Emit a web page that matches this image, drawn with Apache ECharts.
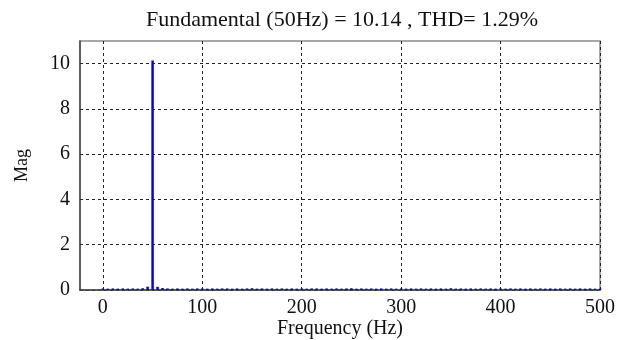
<!DOCTYPE html>
<html>
<head>
<meta charset="utf-8">
<style>
  html, body { margin: 0; padding: 0; background: #fff; }
  #chart { width: 621px; height: 340px; }
</style>
<script src="https://cdn.jsdelivr.net/npm/echarts@6/dist/echarts.min.js"></script>
</head>
<body>
<div id="chart"></div>
<script>
// FFT spectrum: frequency bins (Hz) and magnitudes
const freqs = [
  0, 5, 10, 15, 20, 25, 30, 35, 40, 45, 50, 55, 60, 65, 70, 75, 80, 85, 90, 95,
  100, 105, 110, 115, 120, 125, 130, 135, 140, 145, 150, 155, 160, 165, 170, 175, 180, 185, 190, 195,
  200, 205, 210, 215, 220, 225, 230, 235, 240, 245, 250, 255, 260, 265, 270, 275, 280, 285, 290, 295,
  300, 305, 310, 315, 320, 325, 330, 335, 340, 345, 350, 355, 360, 365, 370, 375, 380, 385, 390, 395,
  400, 405, 410, 415, 420, 425, 430, 435, 440, 445, 450, 455, 460, 465, 470, 475, 480, 485, 490, 495, 500
];
const mags = [
  0.07, 0.06, 0.07, 0.06, 0.07, 0.06, 0.07, 0.06, 0.08, 0.15, 10.14, 0.14, 0.09, 0.07, 0.06, 0.07, 0.06, 0.07, 0.06, 0.07,
  0.07, 0.06, 0.07, 0.06, 0.07, 0.07, 0.06, 0.07, 0.06, 0.07, 0.08, 0.06, 0.07, 0.06, 0.07, 0.06, 0.07, 0.06, 0.07, 0.06,
  0.07, 0.06, 0.07, 0.07, 0.06, 0.07, 0.06, 0.07, 0.06, 0.07, 0.08, 0.06, 0.07, 0.06, 0.07, 0.06, 0.07, 0.06, 0.07, 0.06,
  0.07, 0.06, 0.07, 0.06, 0.07, 0.06, 0.07, 0.06, 0.07, 0.06, 0.08, 0.06, 0.07, 0.06, 0.07, 0.06, 0.07, 0.06, 0.07, 0.06,
  0.07, 0.06, 0.07, 0.06, 0.07, 0.06, 0.07, 0.06, 0.07, 0.06, 0.07, 0.06, 0.07, 0.06, 0.07, 0.06, 0.07, 0.06, 0.07, 0.06, 0.06
];
const xTicks = [0, 100, 200, 300, 400, 500];
const yTicks = [0, 2, 4, 6, 8, 10];
const titleText = 'Fundamental (50Hz) = 10.14 , THD= 1.29%';

const serif = '"Liberation Serif", "DejaVu Serif", serif';
const gridLine = { show: true, lineStyle: { color: '#222', width: 1, type: [3, 3] } };

const chart = echarts.init(document.getElementById('chart'));
chart.setOption({
  animation: false,
  backgroundColor: '#fff',
  title: {
    text: titleText,
    left: 337, top: 4, textAlign: 'center',
    textStyle: { fontFamily: serif, fontSize: 22, fontWeight: 'normal', color: '#111' }
  },
  grid: {
    left: 80, right: 21, top: 41, bottom: 50,
    outerBoundsMode: 'none', containLabel: false,
    show: true, borderColor: '#8a8a8a', borderWidth: 1.5, backgroundColor: 'transparent'
  },
  xAxis: {
    type: 'value', min: -23, max: 500,
    name: 'Frequency (Hz)', nameLocation: 'middle', nameGap: 29, nameMoveOverlap: false,
    nameTextStyle: { fontFamily: serif, fontSize: 20, color: '#111' },
    axisLine: { show: true, onZero: false, lineStyle: { color: '#444', width: 1.5 } },
    axisTick: { show: false, customValues: xTicks },
    axisLabel: { customValues: xTicks, fontFamily: serif, fontSize: 20, color: '#111', margin: 8 },
    splitLine: gridLine
  },
  yAxis: {
    type: 'value', min: 0, max: 11,
    name: 'Mag', nameLocation: 'middle', nameGap: 49,
    nameTextStyle: { fontFamily: serif, fontSize: 18, color: '#111' },
    axisLine: { show: true, onZero: false, lineStyle: { color: '#444', width: 1.5 } },
    axisTick: { show: false, customValues: yTicks },
    axisLabel: { customValues: yTicks, fontFamily: serif, fontSize: 20, color: '#111', margin: 10 },
    splitLine: gridLine
  },
  series: [{
    type: 'bar',
    data: freqs.map((f, i) => [f, mags[i]]),
    barWidth: 2.5,
    itemStyle: { color: '#0000ff' },
    clip: true
  }]
});
</script>
</body>
</html>
